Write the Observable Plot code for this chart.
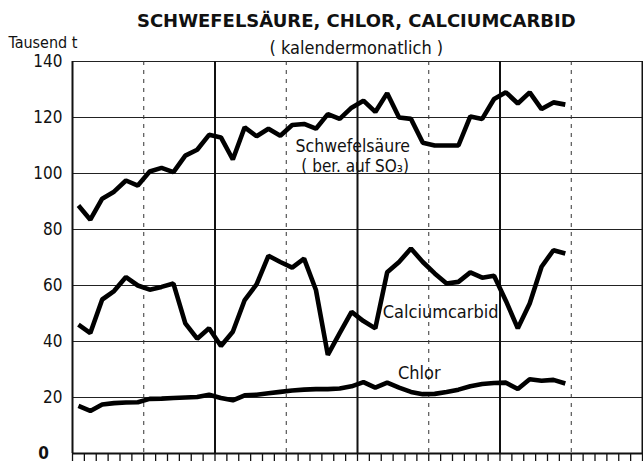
<!DOCTYPE html>
<html>
<head>
<meta charset="utf-8">
<script src="https://cdn.jsdelivr.net/npm/d3@7"></script>
<script src="https://cdn.jsdelivr.net/npm/@observablehq/plot@0.6"></script>
<style>
  html, body { margin: 0; padding: 0; background: #fff; }
  #chart { width: 643px; height: 466px; }
  svg text { fill: #111; }
</style>
</head>
<body>
<div id="chart"></div>
<script>
// Monthly values (thousand tonnes), 42 months starting in January of year 1
const schwefelsaeure = [88.6, 83.5, 91, 93.5, 97.5, 95.7, 100.7, 102, 100.5, 106.4, 108.5, 113.8,
  112.9, 105, 116.5, 113.3, 116, 113.5, 117.3, 117.7, 116, 121.2, 119.5, 123.5,
  126, 122, 128.7, 120, 119.5, 111, 110, 110, 110, 120.4, 119.5, 126.6,
  129, 125, 129, 123, 125.4, 124.6];
const calciumcarbid = [46, 43, 55, 58, 63, 60, 58.5, 59.5, 60.7, 46.5, 41, 44.7,
  38.4, 43.5, 54.8, 60.4, 70.6, 68.4, 66.4, 69.6, 58.4, 35.2, 43, 50.6,
  47.3, 44.7, 64.7, 68.4, 73.2, 68.4, 64.3, 60.7, 61.3, 64.7, 62.8, 63.5,
  54.5, 44.7, 53.6, 66.7, 72.6, 71.4];
const chlor = [17, 15.2, 17.5, 18, 18.2, 18.3, 19.5, 19.6, 19.8, 20, 20.2, 21,
  19.8, 19, 20.8, 21, 21.5, 22, 22.5, 22.8, 23, 23, 23.2, 24,
  25.5, 23.5, 25.3, 23.5, 22, 21.2, 21.3, 22, 22.8, 24, 24.8, 25.2,
  25.3, 23, 26.5, 26, 26.3, 25];
const yTicks = [20, 40, 60, 80, 100, 120, 140];
const yearBounds = [12, 24, 36];
const halfYears = [6, 18, 30, 42];
const monthTicks = d3.range(0, 49);

const title = "SCHWEFELSÄURE, CHLOR, CALCIUMCARBID";
const subtitle = "( kalendermonatlich )";
const yLabel = "Tausend t";

const toRows = (arr, name) => arr.map((v, i) => ({month: i + 0.5, value: v, series: name}));
const rows = [
  ...toRows(schwefelsaeure, "Schwefelsäure"),
  ...toRows(calciumcarbid, "Calciumcarbid"),
  ...toRows(chlor, "Chlor")
];

const font = "'DejaVu Sans Condensed', 'DejaVu Sans', sans-serif";

const chart = Plot.plot({
  width: 643,
  height: 466,
  marginLeft: 72,
  marginRight: 1,
  marginTop: 61,
  marginBottom: 13,
  style: {fontFamily: font, fontSize: "17px", color: "#111", background: "#fff"},
  x: {domain: [0, 48], axis: null},
  y: {domain: [0, 140], axis: null},
  marks: [
    // grid
    Plot.ruleY(yTicks, {stroke: "#222", strokeWidth: 1.2}),
    Plot.ruleX(halfYears, {stroke: "#333", strokeWidth: 1, strokeDasharray: "4,5"}),
    Plot.ruleX(yearBounds, {stroke: "#111", strokeWidth: 2}),
    Plot.ruleX([0, 48], {stroke: "#111", strokeWidth: 2}),
    Plot.ruleY([0], {stroke: "#111", strokeWidth: 2}),
    // month ticks below axis
    Plot.axisX({ticks: monthTicks, tickSize: 8, tickFormat: () => "", label: null, stroke: "#111", strokeWidth: 1.3}),
    // y tick labels
    Plot.axisY({ticks: yTicks, tickSize: 0, tickPadding: 10, label: null, fontSize: 17, fontFamily: font}),
    Plot.text([0], {x: 0, y: 0, text: () => "0", dx: -29, textAnchor: "middle", fontSize: 17, fontWeight: "bold"}),
    // data lines
    Plot.line(rows, {x: "month", y: "value", z: "series", stroke: "#000", strokeWidth: 4.6,
      strokeLinejoin: "miter", strokeLinecap: "butt"}),
    // in-chart labels
    Plot.text(["Schwefelsäure"], {x: 23.6, y: 109.8, text: d => d, fontSize: 17.5, fontFamily: font}),
    Plot.text(["( ber. auf SO₃)"], {x: 23.8, y: 102.5, text: d => d, fontSize: 17, fontFamily: font}),
    Plot.text(["Calciumcarbid"], {x: 31.0, y: 50.4, text: d => d, fontSize: 18, fontFamily: font}),
    Plot.text(["Chlor"], {x: 29.2, y: 28.6, text: d => d, fontSize: 18, fontFamily: font}),
    // title, subtitle, y label in top margin
    Plot.text([title], {frameAnchor: "top", x: 23.9, text: d => d, dy: -47, fontSize: 18, fontWeight: "bold",
      fontFamily: "'DejaVu Sans', sans-serif"}),
    Plot.text([subtitle], {frameAnchor: "top", x: 23.9, text: d => d, dy: -20, fontSize: 18, fontFamily: font}),
    Plot.text([yLabel], {frameAnchor: "top-left", text: d => d, dx: -64, dy: -25, textAnchor: "start", fontSize: 16, fontFamily: font})
  ]
});
document.getElementById("chart").appendChild(chart);
</script>
</body>
</html>
